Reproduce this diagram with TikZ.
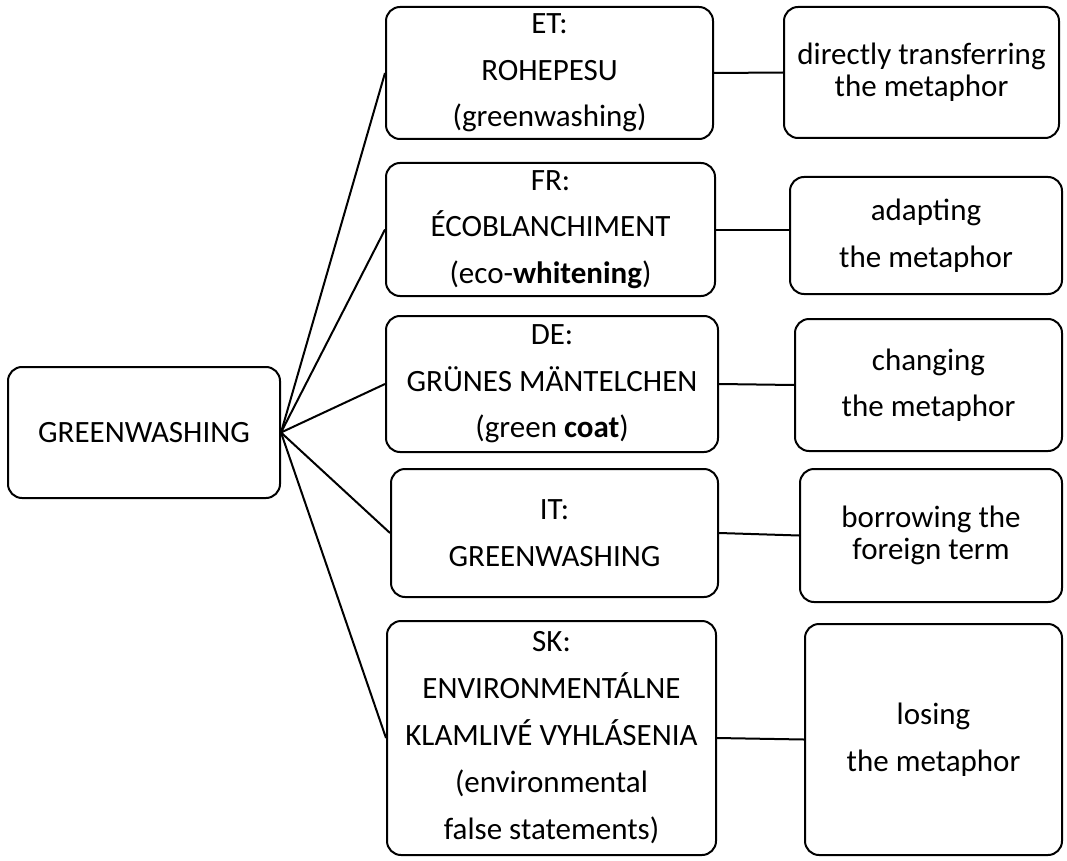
\documentclass[tikz,border=0pt]{standalone}
\usepackage{fontspec}
\setmainfont{Carlito}
\begin{document}
\begin{tikzpicture}[x=1pt,y=-1pt,
  box/.style={draw, rounded corners=14pt, line width=2pt, align=center, inner sep=0pt},
  midtxt/.style={font=\fontsize{31}{46.5}\selectfont},
  wide/.style={font=\fontsize{31}{46.5}\selectfont},
  tight/.style={font=\fontsize{31}{32}\selectfont},
  link/.style={line width=2pt}]
\useasboundingbox (0,0) rectangle (1067,861);
\node[box, midtxt, minimum width=272pt, minimum height=131pt] (g) at (144,432.5) {GREENWASHING};
\node[box, midtxt, minimum width=327pt, minimum height=132pt] (et) at (549.5,73) {ET:\\ROHEPESU\\(greenwashing)};
\node[box, midtxt, minimum width=329pt, minimum height=133pt] (fr) at (550.5,229.5) {FR:\\ÉCOBLANCHIMENT\\(eco-\textbf{whitening})};
\node[box, midtxt, minimum width=332pt, minimum height=136pt] (de) at (552,384) {DE:\\GRÜNES MÄNTELCHEN\\(green \textbf{coat})};
\node[box, midtxt, minimum width=327pt, minimum height=128pt] (it) at (554.5,533) {IT:\\GREENWASHING};
\node[box, font=\fontsize{31}{47}\selectfont, minimum width=329pt, minimum height=234pt] (sk) at (551.5,738) {SK:\\ENVIRONMENTÁLNE\\KLAMLIVÉ VYHLÁSENIA\\(environmental\\false statements)};
\node[box, tight, minimum width=275pt, minimum height=131pt] (r1) at (921.5,72.5) {directly transferring\\the metaphor};
\node[box, wide, minimum width=272pt, minimum height=117pt] (r2) at (926,235.5) {adapting\\the metaphor};
\node[box, wide, minimum width=267pt, minimum height=132pt] (r3) at (928.5,385) {changing\\the metaphor};
\node[box, tight, minimum width=262pt, minimum height=133pt] (r4) at (931,535.5) {borrowing the\\foreign term};
\node[box, wide, minimum width=257pt, minimum height=231pt] (r5) at (933.5,739.5) {losing\\the metaphor};
\foreach \m in {et,fr,de,it,sk} \draw[link] (g.east) -- (\m.west);
\draw[link] (et.east) -- (r1.west);
\draw[link] (fr.east) -- (r2.west |- fr.east);
\draw[link] (de.east) -- (r3.west);
\draw[link] (it.east) -- (r4.west);
\draw[link] (sk.east) -- (r5.west);
\end{tikzpicture}
\end{document}
